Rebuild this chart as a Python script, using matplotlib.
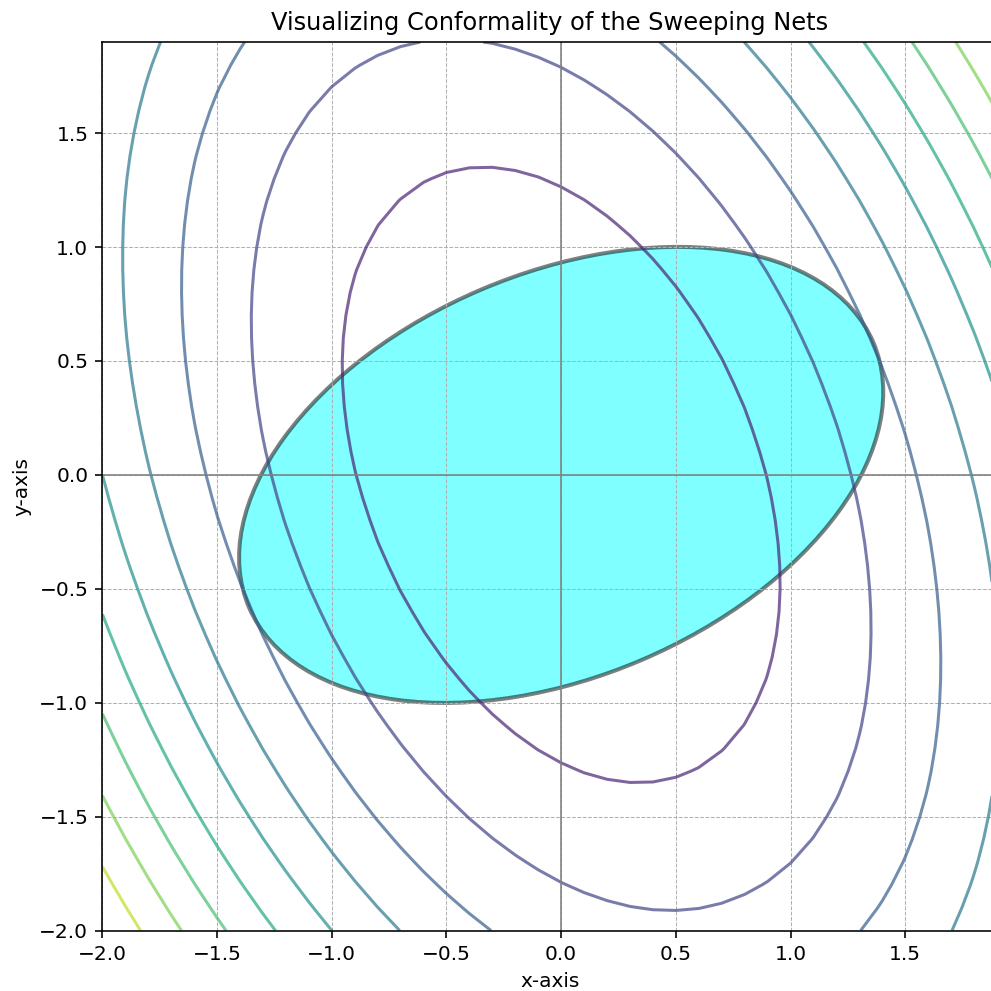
import numpy as np
import matplotlib
matplotlib.use("Agg")
import matplotlib.pyplot as plt
from matplotlib.patches import Ellipse

# quadratic form  z = a*x^2 + b*x*y + c*y^2
coef_a = 2.0
coef_b = 1.0
coef_c = 1.0
levels = [0.0, 1.6, 3.2, 4.8, 6.4, 8.0, 9.6, 11.2, 12.8, 14.4, 16.0]

# tilted ellipse (center, full width, full height, angle in degrees)
ell_center = (0.0, 0.0)
ell_width = 2.96
ell_height = 1.77
ell_angle = 23.2

x = np.arange(-2, 2, 0.1)
y = np.arange(-2, 2, 0.1)
X, Y = np.meshgrid(x, y)
Z = coef_a * X**2 + coef_b * X * Y + coef_c * Y**2

DPI = 145
fig = plt.figure(figsize=(991 / DPI, 991 / DPI), dpi=DPI)
# axes run slightly past the right edge of the figure, as in the original crop
ax = fig.add_axes([0.1034, 0.061, 0.9026, 0.8966])

ell = Ellipse(ell_center, ell_width, ell_height, angle=ell_angle,
              facecolor='cyan', edgecolor='black', linewidth=2, alpha=0.5)
ax.add_patch(ell)

ax.contour(X, Y, Z, levels=levels, cmap='viridis', alpha=0.7, linewidths=1.5)

ax.axhline(0, color='gray', linewidth=0.8)
ax.axvline(0, color='gray', linewidth=0.8)
ax.grid(True, linestyle='--', linewidth=0.5)

ax.set_xlim(-2, 1.9)
ax.set_ylim(-2, 1.9)
ax.set_title("Visualizing Conformality of the Sweeping Nets")
ax.set_xlabel("x-axis")
ax.set_ylabel("y-axis")

fig.savefig("out.png", dpi=DPI)
